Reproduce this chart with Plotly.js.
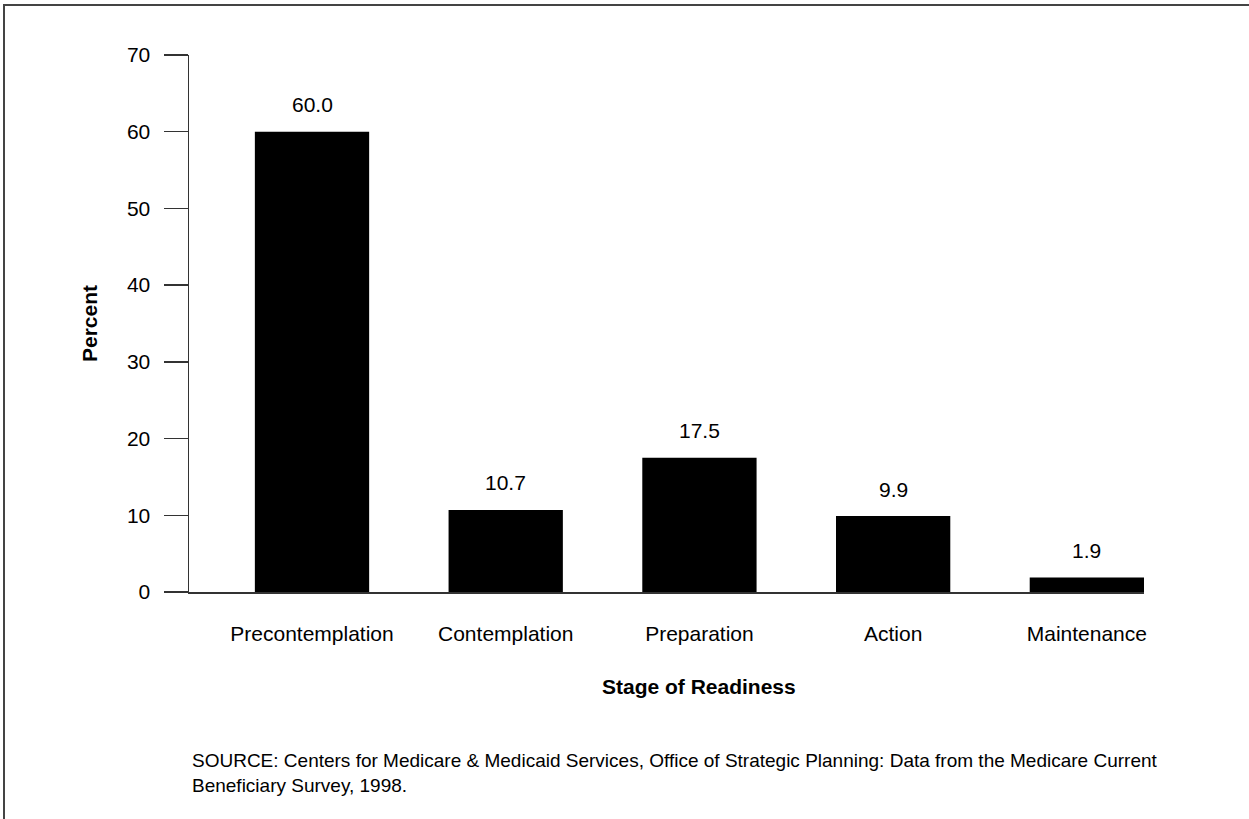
<!DOCTYPE html>
<html>
<head>
<meta charset="utf-8">
<script src="https://cdn.plot.ly/plotly-3.0.1.min.js"></script>
<style>
  html, body { margin: 0; padding: 0; background: #fff; }
  #frame { position: absolute; left: 3px; top: 4px; width: 1400px; height: 900px;
           border-top: 2px solid #444; border-left: 2px solid #444; }
  #chart { position: absolute; left: 0; top: 0; width: 1249px; height: 819px; }
</style>
</head>
<body>
<div id="frame"></div>
<div id="chart"></div>
<script>
const stages = ["Precontemplation", "Contemplation", "Preparation", "Action", "Maintenance"];
const percents = [60.0, 10.7, 17.5, 9.9, 1.9];
const valueLabels = ["60.0", "10.7", "17.5", "9.9", "1.9"];
const yTicks = [0, 10, 20, 30, 40, 50, 60, 70];
const yTitle = "Percent";
const xTitle = "Stage of Readiness";
const sourceNote = "SOURCE: Centers for Medicare & Medicaid Services, Office of Strategic Planning: Data from the Medicare Current<br>Beneficiary Survey, 1998.";

const FONT = "Liberation Sans, Arial, Helvetica, sans-serif";
const FS = 21;

const trace = {
  type: "bar",
  x: stages,
  y: percents,
  width: 0.59,
  marker: { color: "#000000", line: { width: 0 } },
  hoverinfo: "skip"
};

const W = 1249, H = 819;
const margin = { l: 189, r: 105, t: 55, b: 227 };
const plotH = H - margin.t - margin.b;
const plotW = W - margin.l - margin.r;
function pyToPaper(py) { return (H - margin.b - py) / plotH; }
function pxToPaper(px) { return (px - margin.l) / plotW; }

const annotations = stages.map((s, i) => ({
  x: s, y: percents[i], xref: "x", yref: "y",
  text: valueLabels[i], showarrow: false,
  xanchor: "center", yanchor: "middle", yshift: 27,
  font: { family: FONT, size: FS, color: "#000" }
}));

annotations.push({
  x: stages[2], xref: "x", y: pyToPaper(686), yref: "paper",
  xanchor: "center", yanchor: "middle",
  text: "<b>" + xTitle + "</b>", showarrow: false,
  font: { family: FONT, size: FS, color: "#000" }
});

annotations.push({
  xref: "paper", yref: "paper",
  x: pxToPaper(190), y: pyToPaper(773),
  xanchor: "left", yanchor: "middle", align: "left",
  text: sourceNote, showarrow: false,
  font: { family: FONT, size: 19, color: "#000" }
});

const layout = {
  width: W, height: H,
  margin: margin,
  paper_bgcolor: "rgba(0,0,0,0)",
  plot_bgcolor: "rgba(0,0,0,0)",
  showlegend: false,
  font: { family: FONT, size: FS, color: "#000" },
  xaxis: {
    type: "category",
    range: [-0.635, 4.295],
    showline: true, linecolor: "#333", linewidth: 1.5,
    ticks: "", showgrid: false, zeroline: false,
    tickfont: { family: FONT, size: FS, color: "#000" },
    ticklabelstandoff: 22,
    fixedrange: true
  },
  yaxis: {
    range: [0, 70],
    tickvals: yTicks,
    ticktext: yTicks.map(String),
    ticks: "outside", ticklen: 24, tickwidth: 1.5, tickcolor: "#333",
    showline: true, linecolor: "#333", linewidth: 1.5,
    showgrid: false, zeroline: false,
    tickfont: { family: FONT, size: FS, color: "#000" },
    ticklabelstandoff: 9,
    title: { text: "<b>" + yTitle + "</b>", font: { family: FONT, size: FS, color: "#000" }, standoff: 23 },
    fixedrange: true
  },
  annotations: annotations
};

Plotly.newPlot("chart", [trace], layout, { displayModeBar: false, staticPlot: true });
</script>
</body>
</html>
